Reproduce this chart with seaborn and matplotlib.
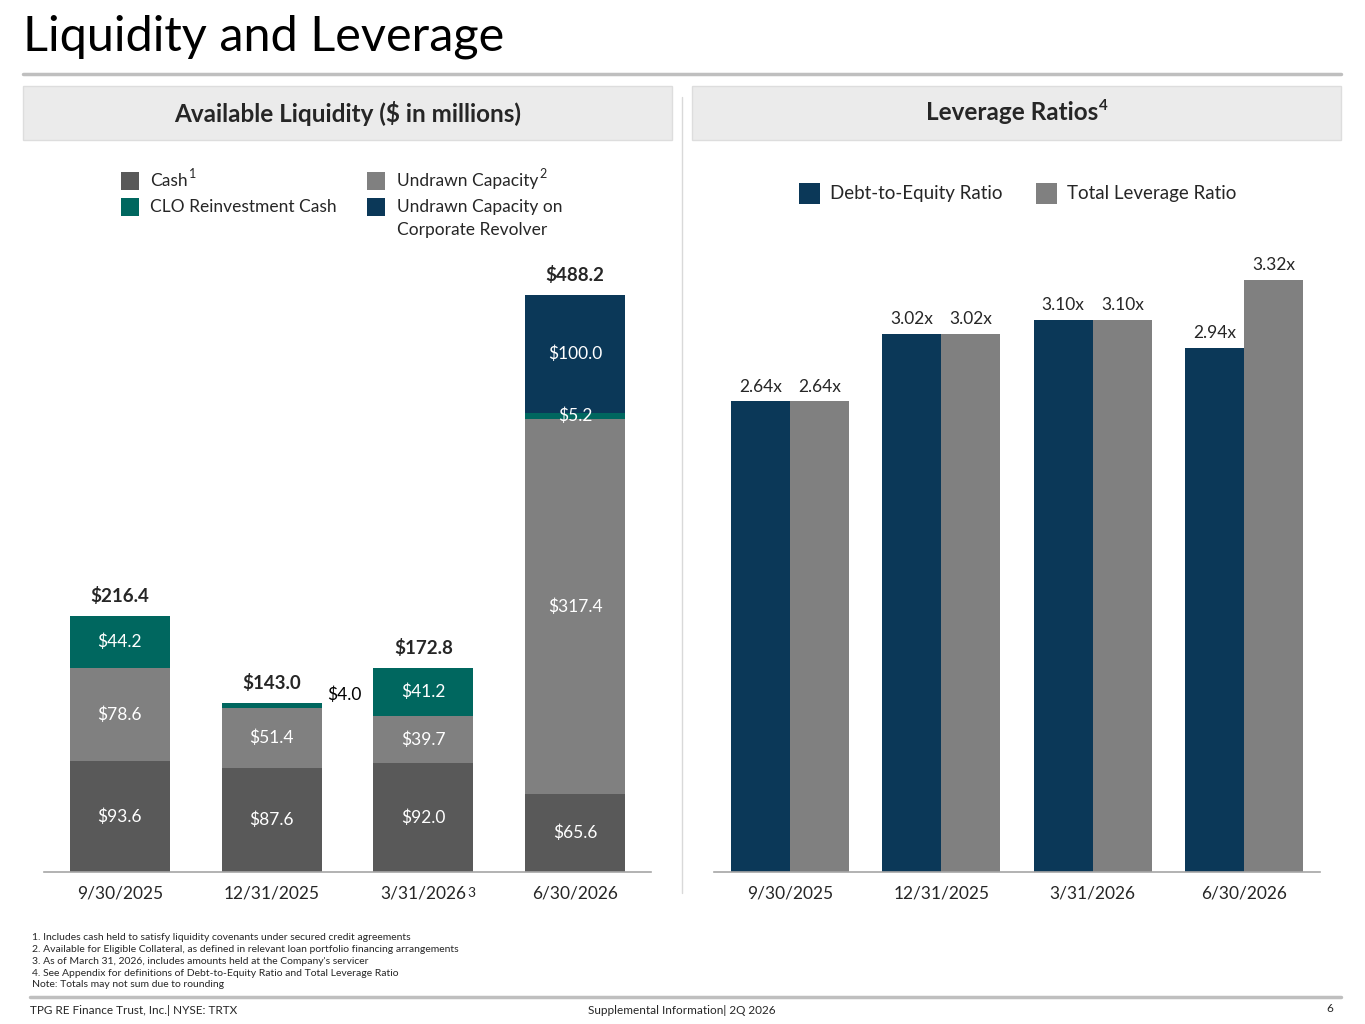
import pandas as pd
import matplotlib.pyplot as plt
import seaborn as sns
from matplotlib.patches import Rectangle
from matplotlib.lines import Line2D

sns.set_theme(style="white")
plt.rcParams['font.family'] = ['Lato', 'DejaVu Sans']

# ---- data ----
dates = ['9/30/2025', '12/31/2025', '3/31/2026', '6/30/2026']
cash = [93.6, 87.6, 92.0, 65.6]
undrawn = [78.6, 51.4, 39.7, 317.4]
clo_cash = [44.2, 4.0, 41.2, 5.2]
revolver = [0.0, 0.0, 0.0, 100.0]
totals = [216.4, 143.0, 172.8, 488.2]

debt_to_equity = [2.64, 3.02, 3.10, 2.94]
total_leverage = [2.64, 3.02, 3.10, 3.32]

footnotes = [
    "1. Includes cash held to satisfy liquidity covenants under secured credit agreements",
    "2. Available for Eligible Collateral, as defined in relevant loan portfolio financing arrangements",
    "3. As of March 31, 2026, includes amounts held at the Company's servicer",
    "4. See Appendix for definitions of Debt-to-Equity Ratio and Total Leverage Ratio",
    "Note: Totals may not sum due to rounding",
]

DARK = '#595959'
GRAY = '#808080'
TEAL = '#00675F'
NAVY = '#0B3858'
W, H = 1365, 1024


def fx(px):
    return px / W


def fy(py):
    return 1 - py / H


fig = plt.figure(figsize=(13.65, 10.24), dpi=100)
renderer = fig.canvas.get_renderer()


def text_with_sup(x, y, main, sup, size, sup_size, rise, weight='normal', ha='left'):
    # draw main text, then a superscript just after its right edge (pixel coords)
    t = fig.text(fx(x), fy(y), main, fontsize=size, fontweight=weight, ha=ha, va='center')
    bb = t.get_window_extent(renderer)
    fig.text(bb.x1 / W + fx(1), fy(y - rise), sup, fontsize=sup_size, fontweight=weight,
             ha='left', va='center')


# title and rules
fig.text(fx(23), fy(37), 'Liquidity and Leverage', fontsize=35, va='center', ha='left', color='black')
fig.add_artist(Line2D([fx(23), fx(1341)], [fy(74), fy(74)], color='#BFBFBF', lw=2.5))
fig.add_artist(Line2D([fx(30), fx(1341)], [fy(997), fy(997)], color='#BFBFBF', lw=2.5))
fig.add_artist(Line2D([fx(682), fx(682)], [fy(97), fy(893)], color='#D9D9D9', lw=1))

# section headers
for x0 in (23, 692):
    fig.add_artist(Rectangle((fx(x0), fy(140)), fx(649), 54 / H, transform=fig.transFigure,
                             facecolor='#EBEBEB', edgecolor='#DDDDDD', lw=1))
fig.text(fx(348), fy(113), 'Available Liquidity ($ in millions)', fontsize=17.5, fontweight='bold',
         ha='center', va='center')
text_with_sup(926, 113, 'Leverage Ratios', '4', 17.5, 11, 7, weight='bold')

# ---- left: stacked liquidity bars ----
ax1 = fig.add_axes([fx(44), fy(872), fx(607), 622 / H])
layers = [cash, undrawn, clo_cash, revolver]
colors = [DARK, GRAY, TEAL, NAVY]
cum = []
run = [0.0] * 4
for layer in layers:
    run = [a + b for a, b in zip(run, layer)]
    cum.append(run)
# draw tallest cumulative first so lower layers sit on top
for heights, c in zip(reversed(cum), reversed(colors)):
    sns.barplot(x=dates, y=heights, color=c, width=0.66, saturation=1, ax=ax1, linewidth=0)

ax1.set_ylim(0, 526)
bottoms = [[0.0] * 4] + cum[:-1]
for li, layer in enumerate(layers):
    for i, v in enumerate(layer):
        if v <= 0:
            continue
        mid = bottoms[li][i] + v / 2
        if dates[i] == '12/31/2025' and li == 2:
            ax1.annotate(f'${v:.1f}', (1.33, cum[2][i]), xytext=(4, 6), textcoords='offset points',
                         ha='left', va='center', fontsize=12.5, color='black')
        else:
            ax1.text(i, mid, f'${v:.1f}', ha='center', va='center', fontsize=12.5, color='white')
for i, t in enumerate(totals):
    ax1.annotate(f'${t:.1f}', (i, t), xytext=(0, 8), textcoords='offset points',
                 ha='center', va='bottom', fontsize=13.5, fontweight='bold')

# ---- right: leverage ratio bars ----
ax2 = fig.add_axes([fx(714), fy(872), fx(606), 622 / H])
lev = pd.DataFrame({
    'date': dates * 2,
    'ratio': ['Debt-to-Equity Ratio'] * 4 + ['Total Leverage Ratio'] * 4,
    'value': debt_to_equity + total_leverage,
})
sns.barplot(data=lev, x='date', y='value', hue='ratio', palette=[NAVY, GRAY], width=0.78,
            saturation=1, linewidth=0, legend=False, ax=ax2)
ax2.set_ylim(0, 3.49)
for cont, vals in zip(ax2.containers, [debt_to_equity, total_leverage]):
    ax2.bar_label(cont, labels=[f'{v:.2f}x' for v in vals], padding=5, fontsize=12.5)

for ax in (ax1, ax2):
    sns.despine(ax=ax, left=True)
    ax.spines['bottom'].set_color('#A6A6A6')
    ax.spines['bottom'].set_linewidth(1.2)
    ax.set_yticks([])
    ax.set_xlabel('')
    ax.set_ylabel('')
    ax.tick_params(axis='x', length=0, labelsize=12.5, pad=10)
    ax.set_facecolor('none')

ax1.annotate('3', (2, 0), xytext=(32, -15), textcoords='offset points', fontsize=10,
             ha='left', va='center')

# legends, laid out by hand like the slide
sq = 18
for x, y, c in [(121, 181, DARK), (121, 207, TEAL), (367, 181, GRAY), (367, 207, NAVY)]:
    fig.add_artist(Rectangle((fx(x), fy(y + sq / 2)), fx(sq), sq / H, transform=fig.transFigure,
                             facecolor=c, edgecolor='none'))
text_with_sup(150, 181, 'Cash', '1', 12.5, 9, 7)
fig.text(fx(150), fy(207), 'CLO Reinvestment Cash', fontsize=12.5, va='center')
text_with_sup(397, 181, 'Undrawn Capacity', '2', 12.5, 9, 7)
fig.text(fx(397), fy(207), 'Undrawn Capacity on', fontsize=12.5, va='center')
fig.text(fx(397), fy(230), 'Corporate Revolver', fontsize=12.5, va='center')

sq2 = 21
for x, c, lab in [(799, NAVY, 'Debt-to-Equity Ratio'), (1036, GRAY, 'Total Leverage Ratio')]:
    fig.add_artist(Rectangle((fx(x), fy(193 + sq2 / 2)), fx(sq2), sq2 / H, transform=fig.transFigure,
                             facecolor=c, edgecolor='none'))
    fig.text(fx(x + 31), fy(193), lab, fontsize=13.5, va='center')

# footnotes and footer
for k, line in enumerate(footnotes):
    fig.text(fx(32), fy(938 + k * 11.7), line, fontsize=7.5, va='center', ha='left')
fig.text(fx(30), fy(1010), 'TPG RE Finance Trust, Inc.| NYSE: TRTX', fontsize=8.5, va='center')
fig.text(fx(682), fy(1010), 'Supplemental Information| 2Q 2026', fontsize=8.5, va='center', ha='center')
fig.text(fx(1333), fy(1008), '6', fontsize=8.5, va='center', ha='right')

fig.savefig('out.png', dpi=100)
